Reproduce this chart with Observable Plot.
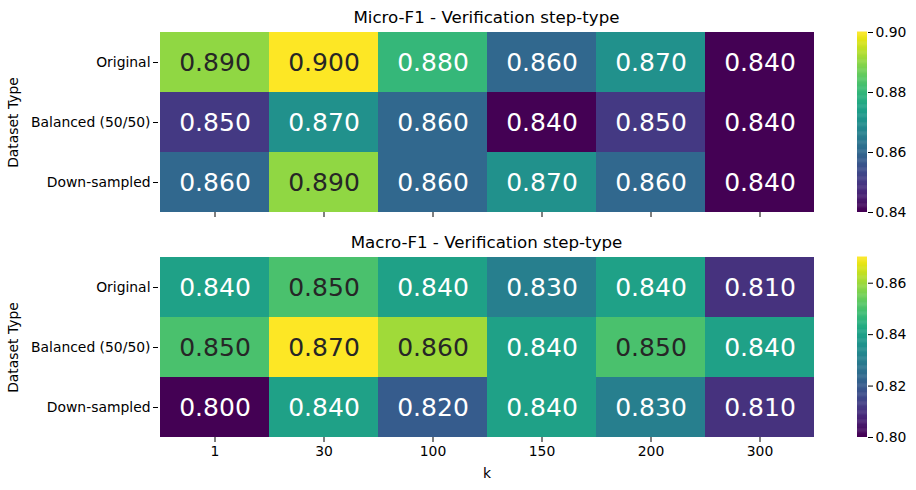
<!DOCTYPE html>
<html>
<head>
<meta charset="utf-8">
<script src="https://cdn.jsdelivr.net/npm/d3@7"></script>
<script src="https://cdn.jsdelivr.net/npm/@observablehq/plot@0.6"></script>
<style>
  html, body { margin: 0; padding: 0; background: #fff; }
  #wrap { position: relative; width: 916px; height: 490px; font-family: "DejaVu Sans", sans-serif; }
  .abs { position: absolute; }
  .title { position: absolute; left: 158px; width: 657px; text-align: center; font-size: 16.67px; color: #000; line-height: 17px; }
</style>
</head>
<body>
<div id="wrap"></div>
<script>
const ks = ["1", "30", "100", "150", "200", "300"];
const datasets = ["Original", "Balanced (50/50)", "Down-sampled"];
const microF1 = [
  [0.89, 0.90, 0.88, 0.86, 0.87, 0.84],
  [0.85, 0.87, 0.86, 0.84, 0.85, 0.84],
  [0.86, 0.89, 0.86, 0.87, 0.86, 0.84]
];
const macroF1 = [
  [0.84, 0.85, 0.84, 0.83, 0.84, 0.81],
  [0.85, 0.87, 0.86, 0.84, 0.85, 0.84],
  [0.80, 0.84, 0.82, 0.84, 0.83, 0.81]
];
const microTicks = [0.84, 0.86, 0.88, 0.90];
const macroTicks = [0.80, 0.82, 0.84, 0.86];
const titles = ["Micro-F1 - Verification step-type", "Macro-F1 - Verification step-type"];

const FONT = "DejaVu Sans";
const FS = 13.9;
const wrap = document.getElementById("wrap");

function toRows(matrix) {
  const rows = [];
  datasets.forEach((ds, i) => ks.forEach((k, j) => rows.push({ds, k, v: matrix[i][j]})));
  return rows;
}

function heatmap(matrix, top, isBottom, title, ticks) {
  const rows = toRows(matrix);
  const vmin = d3.min(rows, d => d.v), vmax = d3.max(rows, d => d.v);
  const light = d => (d.v - vmin) / (vmax - vmin) > 0.69;
  const height = isBottom ? 265 : 225;
  const chart = Plot.plot({
    width: 850,
    height,
    marginLeft: 158,
    marginRight: 35,
    marginTop: 32,
    marginBottom: height - 32 - 180,
    style: {fontFamily: FONT, fontSize: FS + "px", color: "#000", background: "transparent"},
    x: {domain: ks, padding: 0, label: null},
    y: {domain: datasets, padding: 0, label: null},
    color: {type: "linear", domain: [vmin, vmax], interpolate: t => d3.interpolateViridis(t)},
    marks: [
      Plot.cell(rows, {x: "k", y: "ds", fill: "v", inset: 0}),
      Plot.text(rows.filter(light), {x: "k", y: "ds", text: d => d.v.toFixed(3), fill: "#262626", fontSize: 25}),
      Plot.text(rows.filter(d => !light(d)), {x: "k", y: "ds", text: d => d.v.toFixed(3), fill: "white", fontSize: 25}),
      Plot.axisY({tickSize: 5, tickPadding: 3, label: "Dataset Type", labelAnchor: "center", labelOffset: 150, fontSize: FS}),
      isBottom
        ? Plot.axisX({tickSize: 5, tickPadding: 4, label: "k", labelAnchor: "center", labelOffset: 40, fontSize: FS})
        : Plot.axisX({tickSize: 5, tickFormat: () => "", label: null})
    ]
  });
  chart.classList.add("abs");
  chart.style.left = "0px";
  chart.style.top = top + "px";
  wrap.appendChild(chart);

  const t = document.createElement("div");
  t.className = "title";
  t.style.top = (top + 9) + "px";
  t.textContent = title;
  wrap.appendChild(t);

  // colorbar
  const steps = d3.range(0, 200).map(i => ({a: vmin + (vmax - vmin) * i / 200, b: vmin + (vmax - vmin) * (i + 1) / 200}));
  const cb = Plot.plot({
    width: 66,
    height,
    marginLeft: 7,
    marginRight: 49,
    marginTop: 32,
    marginBottom: height - 32 - 180,
    style: {fontFamily: FONT, fontSize: FS + "px", color: "#000", background: "transparent"},
    x: {domain: [0, 1], axis: null},
    y: {domain: [vmin, vmax], label: null},
    color: {type: "linear", domain: [vmin, vmax], interpolate: t => d3.interpolateViridis(t)},
    marks: [
      Plot.rect(steps, {x1: 0, x2: 1, y1: "a", y2: d => d.b + (vmax - vmin) / 400, fill: "a"}),
      Plot.axisY({anchor: "right", ticks: ticks, tickFormat: d3.format(".2f"), tickSize: 5, tickPadding: 3, label: null, fontSize: FS})
    ]
  });
  cb.classList.add("abs");
  cb.style.left = "850px";
  cb.style.top = top + "px";
  wrap.appendChild(cb);
}

heatmap(microF1, 0, false, titles[0], microTicks);
heatmap(macroF1, 225, true, titles[1], macroTicks);
</script>
</body>
</html>
